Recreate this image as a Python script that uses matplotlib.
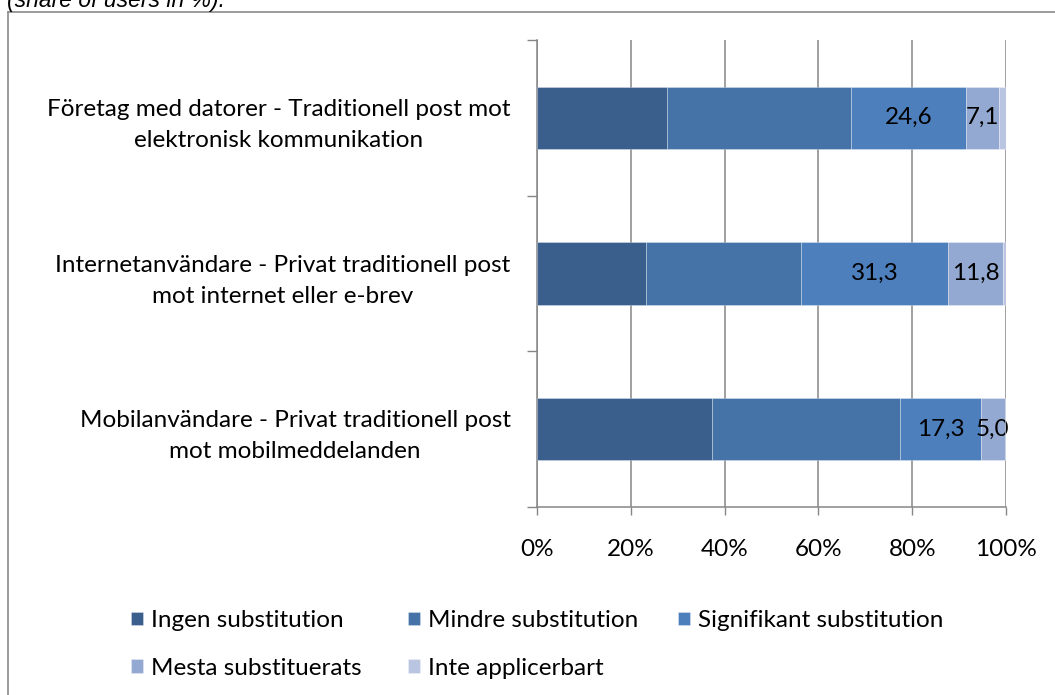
import matplotlib
matplotlib.use("Agg")
import matplotlib.pyplot as plt
from matplotlib.lines import Line2D
import numpy as np

# ---- data ----
categories = [
    "Företag med datorer - Traditionell post mot\nelektronisk kommunikation",
    "Internetanvändare - Privat traditionell post\nmot internet eller e-brev",
    "Mobilanvändare - Privat traditionell post\nmot mobilmeddelanden",
]
series_names = ["Ingen substitution", "Mindre substitution", "Signifikant substitution",
                "Mesta substituerats", "Inte applicerbart"]
ingen = [27.7, 23.2, 37.3]
mindre = [39.2, 33.1, 40.1]
signifikant = [24.6, 31.3, 17.3]
mesta = [7.1, 11.8, 5.0]
inte = [1.4, 0.6, 0.3]
labelled = [False, False, True, True, False]
xticks = [0, 20, 40, 60, 80, 100]
xtick_labels = ["0%", "20%", "40%", "60%", "80%", "100%"]
title_text = "(share of users in %)."

colors = ["#3A5F8C", "#4572A7", "#4D7FBC", "#94A9D1", "#B9C5E1"]
FONT = "Lato"
FS = 17.5
GRAY = "#868686"

W, H = 1055, 695
fig = plt.figure(figsize=(W / 100, H / 100), dpi=100)
ax = fig.add_axes([537 / W, 1 - 507 / H, (1006 - 537) / W, (507 - 40) / H])

y = np.arange(len(categories))[::-1]  # top category at top
series = [ingen, mindre, signifikant, mesta, inte]
left = np.zeros(len(categories))
handles = []
for name, vals, col, lab in zip(series_names, series, colors, labelled):
    vals = np.array(vals)
    bars = ax.barh(y, vals, left=left, height=0.4, color=col,
                   edgecolor=(1, 1, 1, 0.35), linewidth=0.6, label=name, zorder=3)
    handles.append(bars)
    if lab:
        ax.bar_label(bars, labels=[f"{v:.1f}".replace(".", ",") for v in vals],
                     label_type="center", fontsize=FS, fontfamily=FONT, color="black")
    left = left + vals

ax.set_xlim(0, 100)
ax.set_ylim(-0.5, len(categories) - 0.5)
ax.set_xticks(xticks)
ax.set_xticklabels(xtick_labels, fontsize=FS, fontfamily=FONT)
ax.set_yticks(y)
ax.set_yticklabels(categories, fontsize=FS, fontfamily=FONT, multialignment="center",
                   linespacing=1.6)
ax.set_yticks(np.arange(-0.5, len(categories)), minor=True)
ax.tick_params(axis="y", which="major", length=0, pad=19)
ax.tick_params(axis="y", which="minor", length=7.2, width=1.0, color=GRAY, direction="out")
ax.tick_params(axis="x", which="major", length=5.8, width=1.0, color=GRAY, direction="out", pad=17)
ax.grid(axis="x", color=GRAY, linewidth=1.1, zorder=0)
ax.set_axisbelow(True)
for s in ["top", "right"]:
    ax.spines[s].set_visible(False)
for s in ["left", "bottom"]:
    ax.spines[s].set_color(GRAY)
    ax.spines[s].set_linewidth(1.1)

# outer frame lines (partial border)
fig.add_artist(Line2D([8 / W, 8 / W], [0, 1 - 12 / H], color="#8A8A8A", linewidth=1.2,
                      transform=fig.transFigure))
fig.add_artist(Line2D([8 / W, 1], [1 - 12 / H, 1 - 12 / H], color="#8A8A8A", linewidth=1.2,
                      transform=fig.transFigure))

# cut-off title at top (as in the reference)
fig.text(7 / W, 1 - 7 / H, title_text, fontsize=16.5, fontstyle="italic",
         fontfamily="Liberation Sans", ha="left", va="baseline")

# legend: three columns placed at fixed positions
col_groups = [[0, 3], [1, 4], [2]]
col_x = [131, 408, 678]
for grp, cx in zip(col_groups, col_x):
    fig.legend([handles[i] for i in grp], [series_names[i] for i in grp],
               loc="upper left", bbox_to_anchor=(cx / W, 1 - 610 / H),
               frameon=False, prop={"family": FONT, "size": FS},
               handlelength=0.49, handleheight=0.49, handletextpad=0.33,
               labelspacing=1.1, borderpad=0, borderaxespad=0)

fig.savefig("out.png", dpi=100)
